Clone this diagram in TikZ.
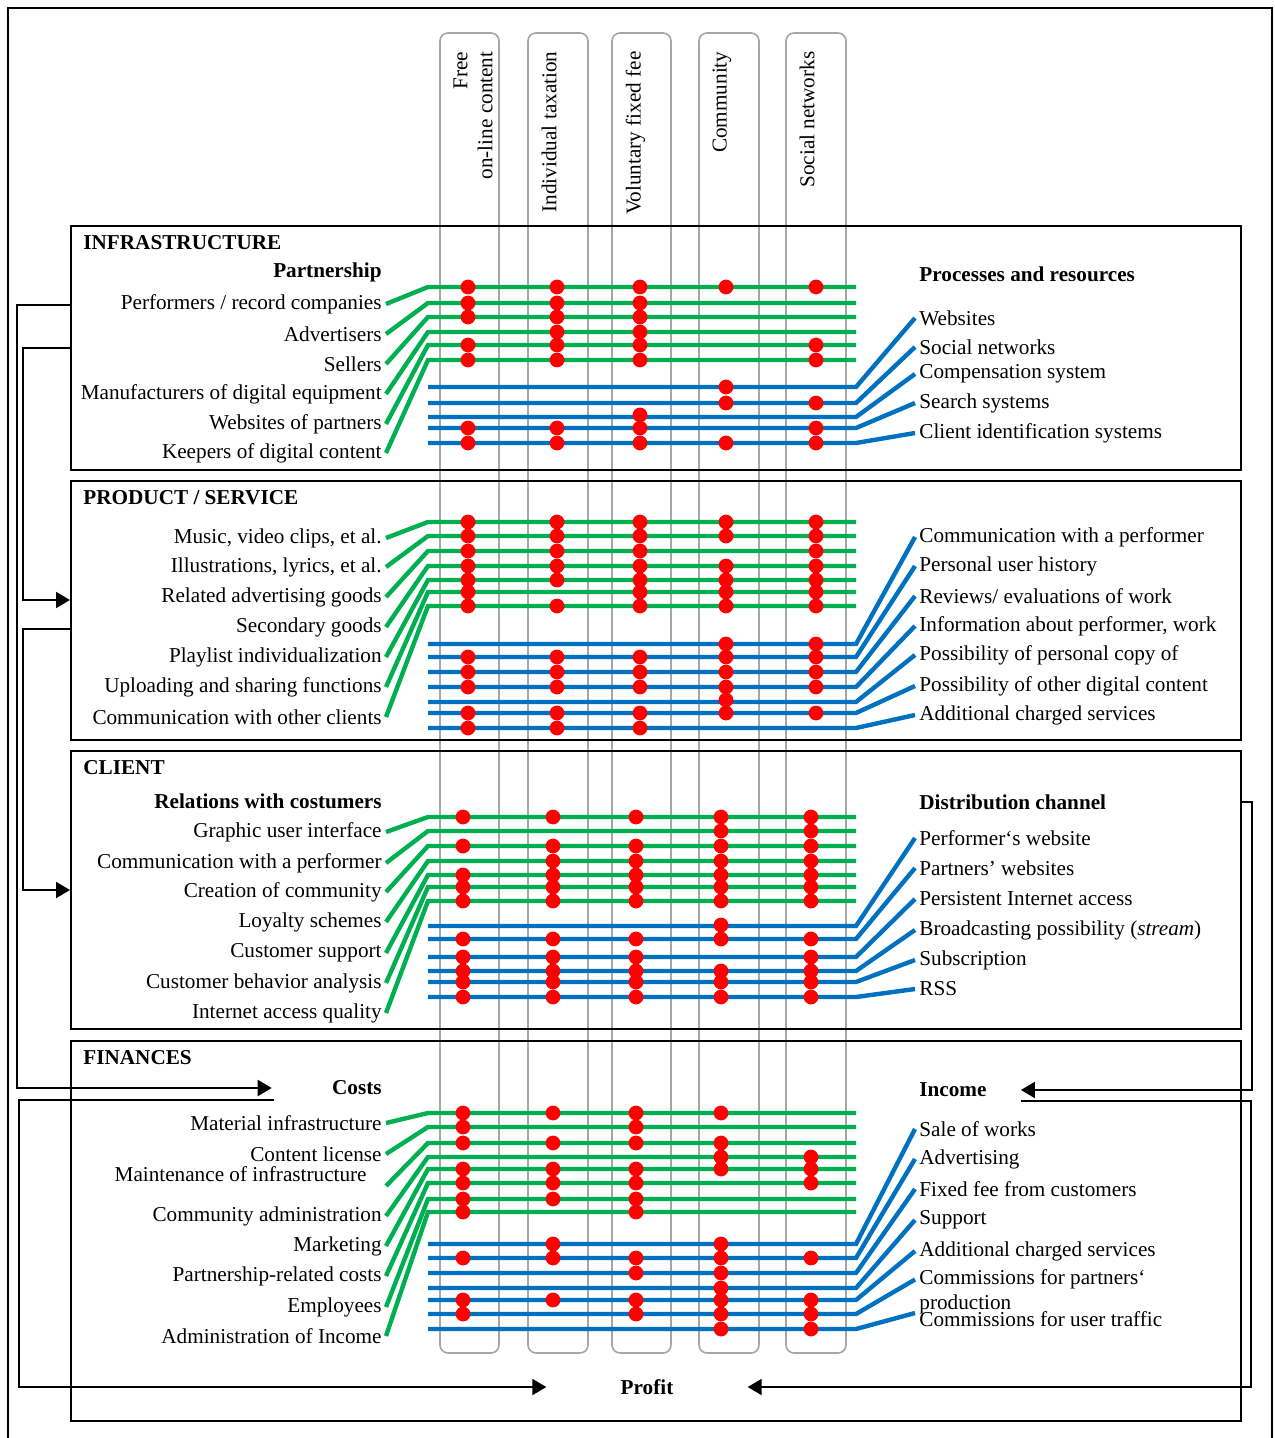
\documentclass[tikz,border=0pt]{standalone}
\usepackage{fontspec}
\setmainfont{Liberation Serif}
\usepackage{tikz}
\usetikzlibrary{positioning, arrows.meta, fit}

\definecolor{linegreen}{HTML}{00B050}
\definecolor{lineblue}{HTML}{0070C0}

\begin{document}
\begin{tikzpicture}[
    x=0.5pt, y=-0.5pt,
    font=\fontsize{10.6}{12.5}\selectfont,
    secbox/.style={draw, line width=1pt, inner sep=0pt},
    colbox/.style={draw=black!35, line width=0.8pt, rounded corners=4pt, inner sep=0pt},
    colhead/.style={rotate=90, anchor=north east, align=right, inner sep=2pt},
    lab/.style={inner sep=2pt},
    head/.style={inner sep=2pt, font=\fontsize{10.6}{12.5}\selectfont\bfseries},
    gline/.style={draw=linegreen, line width=2.2pt},
    bline/.style={draw=lineblue, line width=2.2pt},
    dot/.style={fill=red},
    flow/.style={line width=1pt, -{Triangle[length=7pt, width=8pt]}}
]
\useasboundingbox (0,0) rectangle (1274,1438);
\draw[line width=1pt] (8,1438) |- (1272,8) -- (1272,1438);

% business model columns
\node[colbox, fit={(440,33) (499,1353)}] (cfree) {};
\node[colbox, fit={(528,33) (588,1353)}] (ctax) {};
\node[colbox, fit={(612,33) (671,1353)}] (cfee) {};
\node[colbox, fit={(699,33) (759,1353)}] (ccomm) {};
\node[colbox, fit={(786,33) (846,1353)}] (csoc) {};
\node[colhead] (hfree) at ([xshift=5pt, yshift=-7.5pt]cfree.north west) {Free\\on-line content};
\node[colhead] (htax) at ([xshift=5pt, yshift=-7.5pt]ctax.north west) {Individual taxation};
\node[colhead] (hfee) at ([xshift=5pt, yshift=-7.5pt]cfee.north west) {Voluntary fixed fee};
\node[colhead] (hcomm) at ([xshift=5pt, yshift=-7.5pt]ccomm.north west) {Community};
\node[colhead] (hsoc) at ([xshift=5pt, yshift=-7.5pt]csoc.north west) {Social networks};

% infrastructure
\node[secbox, fit={(71,226) (1241,470)}] (infra) {};
\node[head, anchor=west] (tinfra) at (79,243) {INFRASTRUCTURE};
\node[head, anchor=east] (partner) at (386,272) {Partnership};
\node[head, anchor=west] (process) at (915,274) {Processes and resources};
\foreach \txt/\ly/\gy [count=\i] in {{Performers / record companies}/304/287, Advertisers/334/303, Sellers/364/317, {Manufacturers of digital equipment}/394/332, {Websites of partners}/424/345, {Keepers of digital content}/453/360} {
    \node[lab, anchor=east] (ip\i) at (386,\ly) {\txt};
    \coordinate (ig\i) at (428,\gy);
    \draw[gline] (ip\i.east) -- (ig\i) -- ++(428,0);
}
\foreach \txt/\ly/\by [count=\i] in {Websites/318/387, {Social networks}/347/403, {Compensation system}/374/417, {Search systems}/403/428, {Client identification systems}/433/443} {
    \node[lab, anchor=west] (ir\i) at (915,\ly) {\txt};
    \coordinate (ib\i) at (428,\by);
    \draw[bline] (ib\i) -- ++(428,0) -- (ir\i.west);
}
\foreach \y/\xs in {287/{468,557,640,726,816}, 303/{468,557,640}, 317/{468,557,640}, 332/{557,640}, 345/{468,557,640,816}, 360/{468,557,640,816}, 387/{726}, 403/{726,816}, 415/{640}, 428/{468,557,640,816}, 443/{468,557,640,726,816}} {
    \foreach \x in \xs \fill[dot] (\x,\y) circle (3.7pt);
}

% product / service
\node[secbox, fit={(71,481) (1241,740)}] (prod) {};
\node[head, anchor=west] (tprod) at (79,498) {PRODUCT / SERVICE};
\foreach \txt/\ly/\gy [count=\i] in {{Music, video clips, et al.}/538/522, {Illustrations, lyrics, et al.}/567/536, {Related advertising goods}/597/551, {Secondary goods}/627/566, {Playlist individualization}/657/580, {Uploading and sharing functions}/687/592, {Communication with other clients}/717/606} {
    \node[lab, anchor=east] (pp\i) at (386,\ly) {\txt};
    \coordinate (pg\i) at (428,\gy);
    \draw[gline] (pp\i.east) -- (pg\i) -- ++(428,0);
}
\foreach \txt/\ly/\by [count=\i] in {{Communication with a performer}/537/644, {Personal user history}/566/657, {Reviews/ evaluations of work}/596/672, {Information about performer, work}/626/687, {Possibility of personal copy of}/655/702, {Possibility of other digital content}/686/713, {Additional charged services}/715/728} {
    \node[lab, anchor=west] (pr\i) at (915,\ly) {\txt};
    \coordinate (pb\i) at (428,\by);
    \draw[bline] (pb\i) -- ++(428,0) -- (pr\i.west);
}
\foreach \y/\xs in {522/{468,557,640,726,816}, 536/{468,557,640,726,816}, 551/{468,557,640,816}, 566/{468,557,640,726,816}, 580/{468,557,640,726,816}, 592/{468,640,726,816}, 606/{468,557,640,726,816}, 644/{726,816}, 657/{468,557,640,726,816}, 672/{468,557,640,726,816}, 687/{468,557,640,726,816}, 700/{726}, 713/{468,557,640,726,816}, 728/{468,557,640}} {
    \foreach \x in \xs \fill[dot] (\x,\y) circle (3.7pt);
}

% client
\node[secbox, fit={(71,751) (1241,1029)}] (client) {};
\node[head, anchor=west] (tclient) at (79,768) {CLIENT};
\node[head, anchor=east] (relat) at (386,801) {Relations with costumers};
\node[head, anchor=west] (distr) at (915,802) {Distribution channel};
\foreach \txt/\ly/\gy [count=\i] in {{Graphic user interface}/832/817, {Communication with a performer}/863/831, {Creation of community}/892/846, {Loyalty schemes}/922/861, {Customer support}/953/875, {Customer behavior analysis}/983/887, {Internet access quality}/1013/901} {
    \node[lab, anchor=east] (cp\i) at (386,\ly) {\txt};
    \coordinate (cg\i) at (428,\gy);
    \draw[gline] (cp\i.east) -- (cg\i) -- ++(428,0);
}
\foreach \txt/\ly/\by [count=\i] in {{Performer‘s website}/838/926, {Partners’ websites}/868/939, {Persistent Internet access}/899/957, {Broadcasting possibility (\textit{stream})}/930/971, Subscription/960/982, RSS/989/997} {
    \node[lab, anchor=west] (cr\i) at (915,\ly) {\txt};
    \coordinate (cb\i) at (428,\by);
    \draw[bline] (cb\i) -- ++(428,0) -- (cr\i.west);
}
\foreach \y/\xs in {817/{463,553,636,721,811}, 831/{721,811}, 846/{463,553,636,721,811}, 861/{553,636,721,811}, 875/{463,553,636,721,811}, 887/{463,553,636,721,811}, 901/{463,553,636,721,811}, 925/{721}, 939/{463,553,636,721,811}, 957/{463,553,636,811}, 971/{463,553,636,721,811}, 982/{463,553,636,721,811}, 997/{463,553,636,721,811}} {
    \foreach \x in \xs \fill[dot] (\x,\y) circle (3.7pt);
}

% finances
\node[secbox, fit={(71,1041) (1241,1421)}] (fin) {};
\node[head, anchor=west] (tfin) at (79,1058) {FINANCES};
\node[head, anchor=east] (costs) at (386,1088) {Costs};
\node[head, anchor=west] (income) at (915,1090) {Income};
\foreach \txt/\ly/\gy [count=\i] in {{Material infrastructure}/1123/1113, {Content license}/1154/1127, {Community administration}/1216/1157, Marketing/1246/1169, {Partnership-related costs}/1276/1183, Employees/1307/1199, {Administration of Income}/1336/1212} {
    \node[lab, anchor=east] (fp\i) at (386,\ly) {\txt};
    \coordinate (fg\i) at (428,\gy);
    \draw[gline] (fp\i.east) -- (fg\i) -- ++(428,0);
}
\node[lab, anchor=east] (maint) at (371,1174) {Maintenance of infrastructure};
\coordinate (fgm) at (428,1143);
\draw[gline] ([xshift=7.5pt]maint.south east) -- (fgm) -- ++(428,0);
\foreach \txt/\ly/\by [count=\i] in {{Sale of works}/1129/1244, Advertising/1159/1258, {Fixed fee from customers}/1189/1273, Support/1220/1288, {Additional charged services}/1251/1300} {
    \node[lab, anchor=west] (fr\i) at (915,\ly) {\txt};
    \coordinate (fb\i) at (428,\by);
    \draw[bline] (fb\i) -- ++(428,0) -- (fr\i.west);
}
\node[lab, anchor=west, align=left] (cpart) at (915,1292) {Commissions for partners‘\\production};
\node[lab, anchor=west] (traffic) at (915,1319) {Commissions for user traffic};
\coordinate (fbp) at (428,1314);
\coordinate (fbt) at (428,1329);
\draw[bline] (fbp) -- ++(428,0) -- ([yshift=6.25pt]cpart.west);
\draw[bline] (fbt) -- ++(428,0) -- ([yshift=3pt]traffic.west);
\foreach \y/\xs in {1113/{463,553,636,721}, 1127/{463,636}, 1143/{463,553,636,721}, 1157/{721,811}, 1169/{463,553,636,721,811}, 1183/{463,553,636,811}, 1199/{463,553,636}, 1212/{463,636}, 1244/{553,721}, 1258/{463,553,636,721,811}, 1273/{636,721}, 1288/{721}, 1300/{463,553,636,721,811}, 1314/{463,636,721,811}, 1329/{721,811}} {
    \foreach \x in \xs \fill[dot] (\x,\y) circle (3.7pt);
}
\node[head] (profit) at (647,1387) {Profit};

% flows between the blocks
\draw[flow] (infra.west |- 0,348) -| (23,600) -- (prod.west |- 0,600);
\draw[flow] (prod.west |- 0,629) -| (23,890) -- (client.west |- 0,890);
\draw[flow, shorten >=28pt] (infra.west |- 0,305) -| (17,1088) -- (costs.west);
\draw[flow, shorten >=15pt] (client.east |- 0,802) -| (1252,1090) -- (income.east);
\draw[flow, shorten >=35pt] ([xshift=-27pt]costs.south west) -| (19,1387) -- (profit.west);
\draw[flow, shorten >=35pt] ([xshift=15pt]income.south east) -| (1251,1387) -- (profit.east);
\end{tikzpicture}
\end{document}
